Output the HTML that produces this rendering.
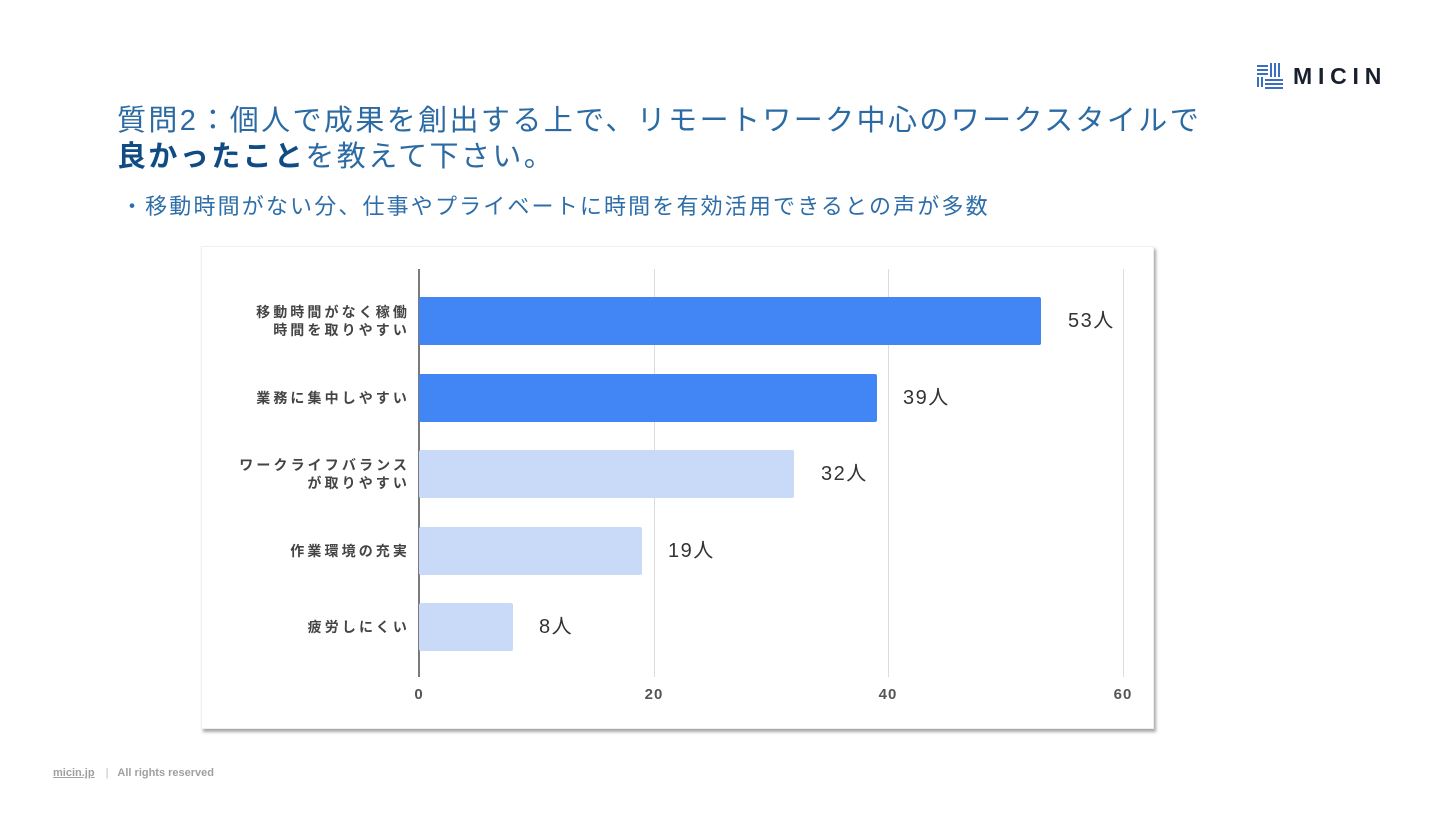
<!DOCTYPE html>
<html><head><meta charset="utf-8">
<style>
html,body{margin:0;padding:0;background:#fff;}
body{width:1440px;height:817px;position:relative;overflow:hidden;font-family:"Liberation Sans","Noto Sans CJK JP",sans-serif;}
.abs{position:absolute;}
.t1{left:117px;top:103px;font-size:29px;line-height:36px;letter-spacing:2.4px;color:#2b6aa3;white-space:nowrap;}
.t2{left:117px;top:139px;font-size:29px;line-height:36px;letter-spacing:2.4px;color:#2b6aa3;white-space:nowrap;}
.t2 b{color:#0f4c86;font-weight:bold;}
.sub{left:121px;top:194px;font-size:22px;line-height:26px;letter-spacing:2.15px;color:#2e6ea8;white-space:nowrap;}
.card{left:201px;top:246px;width:951px;height:481px;background:#fff;border:1px solid #eee;box-shadow:2px 3px 3px rgba(0,0,0,0.35);}
.grid{width:1px;top:269px;height:408px;background:#dcdcdc;}
.axis{left:418px;top:269px;width:2px;height:408px;background:#7a7a7a;}
.bar{left:419px;height:48px;border-radius:2px;}
.dark{background:#4285f4;}
.light{background:#c9daf8;}
.cat{right:1030px;text-align:right;font-size:14px;line-height:18px;letter-spacing:3.1px;color:#444;font-weight:bold;white-space:nowrap;}
.val{font-size:20px;line-height:24px;letter-spacing:1.5px;color:#333;white-space:nowrap;}
.tick{width:60px;text-align:center;top:686px;font-size:15px;line-height:18px;letter-spacing:1px;color:#555;font-weight:bold;}
.foot{left:53px;top:766px;font-size:11px;line-height:14px;color:#a0a0a0;font-weight:bold;white-space:nowrap;}
</style></head><body>

<!-- logo -->
<svg class="abs" style="left:1257px;top:63px" width="26" height="26" viewBox="0 0 26 26">
  <g fill="#3b6fc2">
    <rect x="0" y="2" width="11" height="2"/>
    <rect x="0" y="6" width="11" height="2"/>
    <rect x="0" y="10" width="11" height="2"/>
    <rect x="0" y="14" width="2" height="10"/>
    <rect x="4" y="14" width="2" height="10"/>
    <rect x="13" y="0" width="2" height="14"/>
    <rect x="17" y="0" width="2" height="14"/>
    <rect x="21" y="0" width="2" height="14"/>
    <rect x="8" y="16" width="18" height="2"/>
    <rect x="8" y="20" width="18" height="2"/>
    <rect x="8" y="24" width="18" height="2"/>
  </g>
</svg>
<div class="abs" style="left:1293px;top:63px;font-size:23px;line-height:27px;font-weight:bold;letter-spacing:5.8px;color:#18202e;">MICIN</div>

<div class="abs t1">質問2：個人で成果を創出する上で、リモートワーク中心のワークスタイルで</div>
<div class="abs t2"><b>良かったこと</b>を教えて下さい。</div>
<div class="abs sub">・移動時間がない分、仕事やプライベートに時間を有効活用できるとの声が多数</div>

<div class="abs card"></div>

<div class="abs grid" style="left:654px"></div>
<div class="abs grid" style="left:888px"></div>
<div class="abs grid" style="left:1123px"></div>
<div class="abs axis"></div>

<div class="abs bar dark" style="top:297px;width:622px"></div>
<div class="abs bar dark" style="top:374px;width:458px"></div>
<div class="abs bar light" style="top:450px;width:375px"></div>
<div class="abs bar light" style="top:527px;width:223px"></div>
<div class="abs bar light" style="top:603px;width:94px"></div>

<div class="abs cat" style="top:303px">移動時間がなく稼働<br>時間を取りやすい</div>
<div class="abs cat" style="top:389px">業務に集中しやすい</div>
<div class="abs cat" style="top:456px">ワークライフバランス<br>が取りやすい</div>
<div class="abs cat" style="top:542px">作業環境の充実</div>
<div class="abs cat" style="top:618px">疲労しにくい</div>

<div class="abs val" style="left:1068px;top:309px">53人</div>
<div class="abs val" style="left:903px;top:386px">39人</div>
<div class="abs val" style="left:821px;top:462px">32人</div>
<div class="abs val" style="left:668px;top:539px">19人</div>
<div class="abs val" style="left:539px;top:615px">8人</div>

<div class="abs tick" style="left:389px">0</div>
<div class="abs tick" style="left:624px">20</div>
<div class="abs tick" style="left:858px">40</div>
<div class="abs tick" style="left:1093px">60</div>

<div class="abs foot"><span style="text-decoration:underline">micin.jp</span><span style="margin:0 9px 0 11px;font-weight:normal;color:#bbb">|</span>All rights reserved</div>

</body></html>
